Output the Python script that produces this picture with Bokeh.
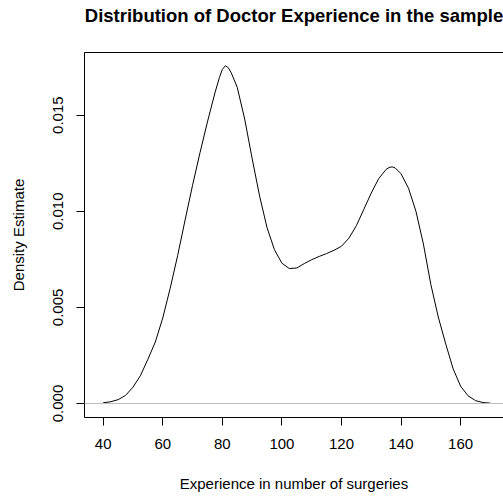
from bokeh.plotting import figure
from bokeh.models import Range1d, FixedTicker, Span, LinearAxis, PrintfTickFormatter
from bokeh.embed import file_html
from bokeh.resources import INLINE

# Kernel density estimate of doctor experience (number of surgeries)
experience = [40, 42.5, 45, 47.5, 50, 52.5, 55, 57.5, 60, 62.5, 65, 67.5, 70, 72.5,
              75, 77.5, 79, 80, 81, 82, 83, 85, 87.5, 90, 92.5, 95, 97.5, 100,
              102.5, 105, 107.5, 110, 112.5, 115, 117.5, 120, 122.5, 125, 127.5,
              130, 132.5, 135, 136, 137, 138, 140, 142.5, 145, 147.5, 150, 152.5,
              155, 157.5, 160, 162.5, 165, 167.5, 170]
density = [0.00004, 0.00009, 0.00020, 0.00042, 0.00085, 0.00145, 0.00230, 0.00320,
           0.00445, 0.00600, 0.00770, 0.00955, 0.01135, 0.01305, 0.01465, 0.01615,
           0.01695, 0.01738, 0.01757, 0.01747, 0.01720, 0.01645, 0.01480, 0.01275,
           0.01080, 0.00915, 0.00800, 0.00730, 0.00702, 0.00705, 0.00728, 0.00748,
           0.00765, 0.00780, 0.00797, 0.00818, 0.00860, 0.00925, 0.01010, 0.01095,
           0.01170, 0.01218, 0.01228, 0.01231, 0.01226, 0.01195, 0.01120, 0.01000,
           0.00830, 0.00620, 0.00450, 0.00310, 0.00180, 0.00090, 0.00040, 0.00015,
           0.00005, 0.00002]

x_ticks = [40, 60, 80, 100, 120, 140, 160]
y_ticks = [0.0, 0.005, 0.010, 0.015]

FONT = "Liberation Sans"
TITLE = "Distribution of Doctor Experience in the sample"

p = figure(width=503, height=496, output_backend="svg", toolbar_location=None,
           x_range=Range1d(33.72, 174.4), y_range=Range1d(-0.000728, 0.01826),
           min_border_left=84, min_border_right=0, min_border_top=52,
           min_border_bottom=79)

p.outline_line_color = None
p.grid.visible = False
p.background_fill_color = "white"
p.border_fill_color = "white"

for ax in (p.xaxis[0], p.yaxis[0]):
    ax.axis_line_color = "black"
    ax.major_tick_line_color = "black"
    ax.major_tick_in = 0
    ax.major_tick_out = 8
    ax.minor_tick_line_color = None
    ax.major_label_text_font = FONT
    ax.major_label_text_font_size = "15px"
    ax.major_label_text_color = "black"
    ax.axis_label_text_font = FONT
    ax.axis_label_text_font_size = "15px"
    ax.axis_label_text_font_style = "normal"
    ax.axis_label_text_color = "black"

p.xaxis.ticker = FixedTicker(ticks=x_ticks)
p.xaxis.axis_label = "Experience in number of surgeries"
p.xaxis.major_label_standoff = 13
p.xaxis.axis_label_standoff = 23

p.yaxis.ticker = FixedTicker(ticks=y_ticks)
p.yaxis.formatter = PrintfTickFormatter(format="%.3f")
p.yaxis.major_label_orientation = "parallel"
p.yaxis.axis_label = "Density Estimate"
p.yaxis.major_label_standoff = 13
p.yaxis.axis_label_standoff = 24

# top edge of the plot box, carrying the chart title
top = LinearAxis(ticker=FixedTicker(ticks=[]), axis_line_color="black",
                 major_tick_line_color=None, minor_tick_line_color=None,
                 major_tick_in=0, major_tick_out=0, major_label_standoff=0,
                 axis_label=TITLE, axis_label_standoff=27,
                 axis_label_text_font=FONT, axis_label_text_font_size="18.5px",
                 axis_label_text_font_style="bold", axis_label_text_color="black")
p.add_layout(top, "above")

p.add_layout(Span(location=0, dimension="width", line_color="#bebebe", line_width=1))
p.line(experience, density, line_color="black", line_width=1)

open("out.html", "w").write(file_html(p, INLINE))
